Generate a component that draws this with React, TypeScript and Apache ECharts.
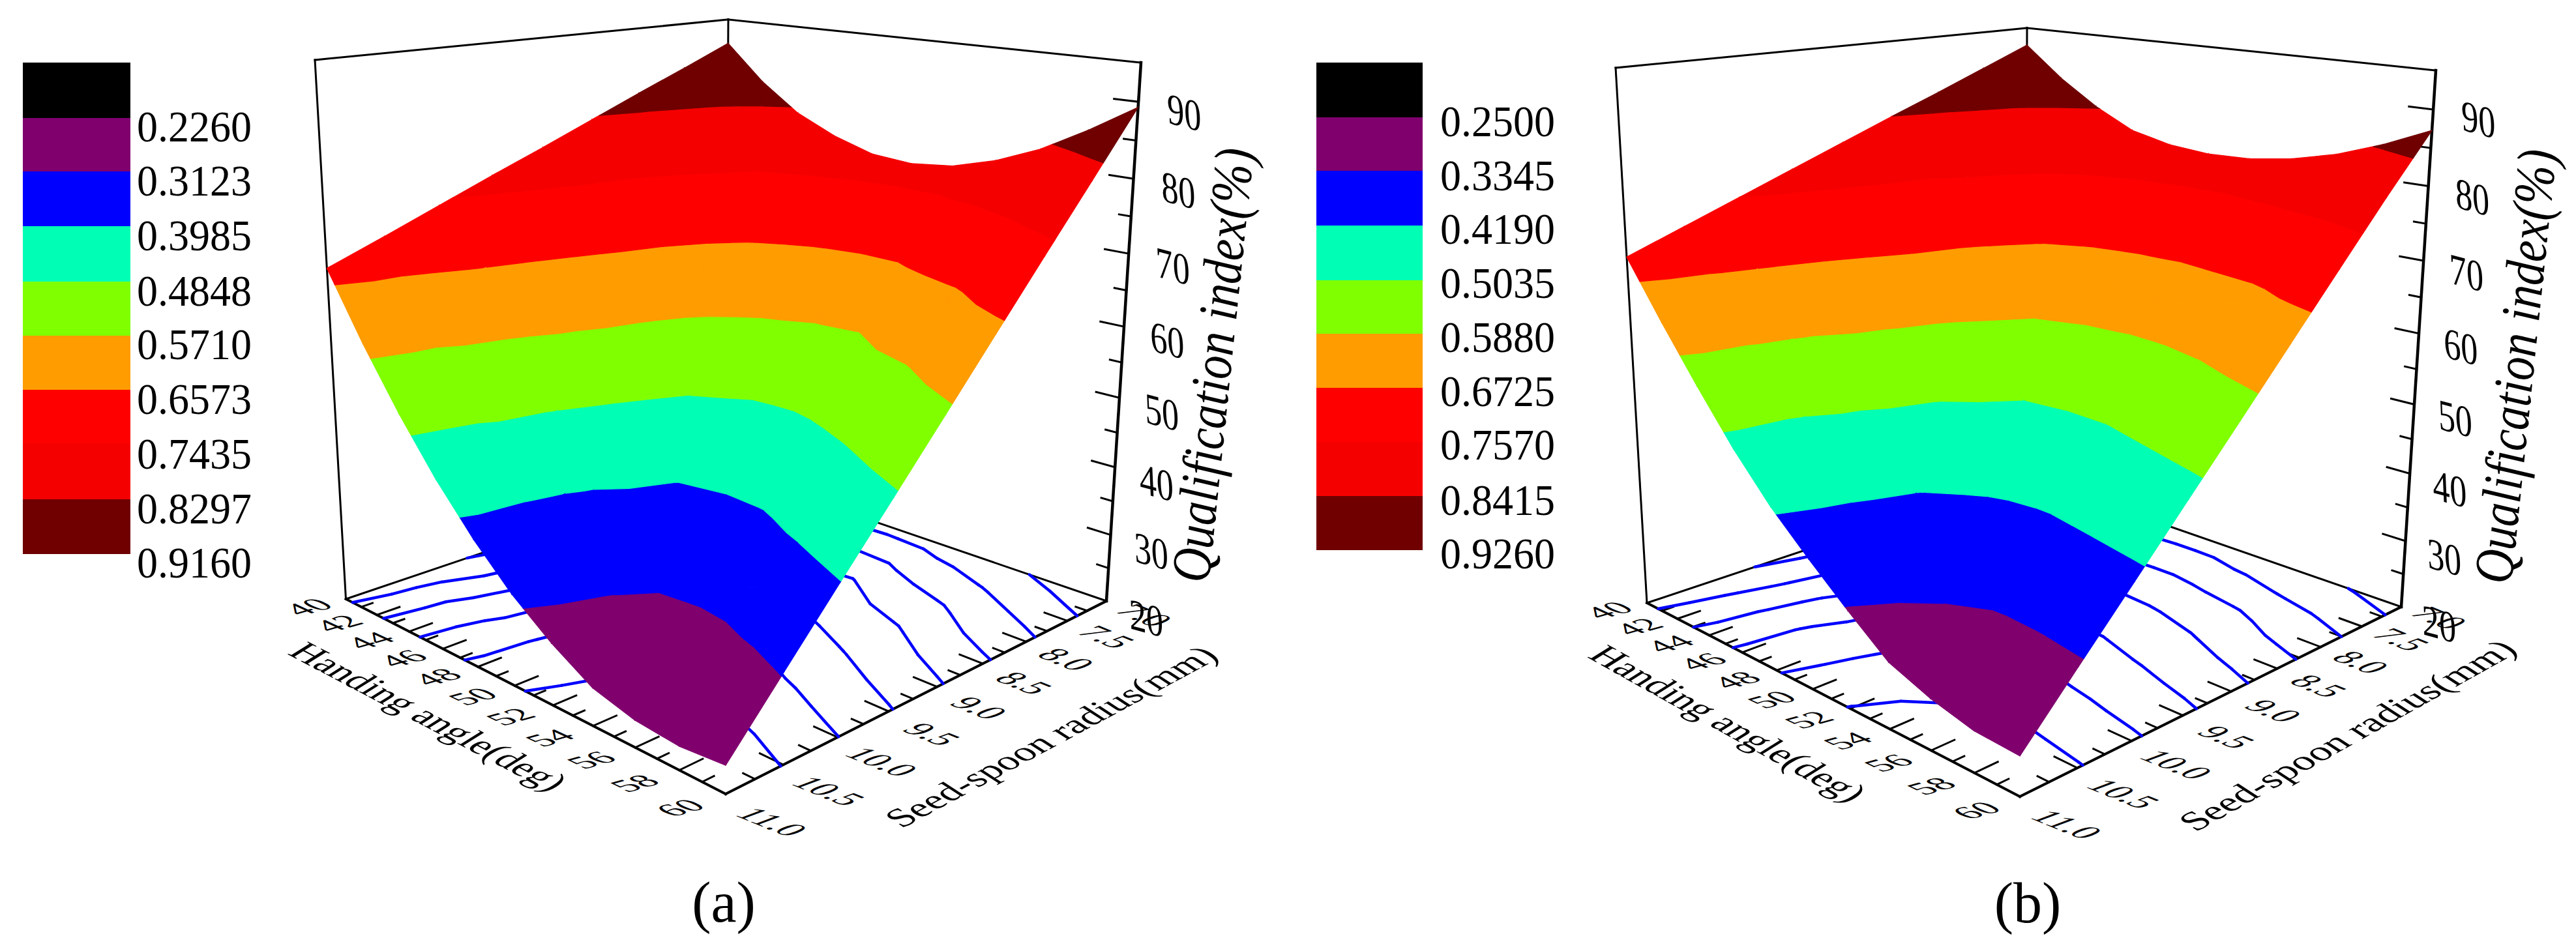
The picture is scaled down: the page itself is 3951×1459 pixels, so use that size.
import React, { useEffect, useRef } from "react";
import * as echarts from "echarts";

type P = [number, number];

// ---------- data ----------
const handingAngles = [40, 42, 44, 46, 48, 50, 52, 54, 56, 58, 60];
const spoonRadii = [7, 7.5, 8, 8.5, 9, 9.5, 10, 10.5, 11];
const angleTicks = [41, 42, 43, 44, 45, 46, 47, 48, 49, 50, 51, 52, 53, 54, 55, 56, 57, 58, 59];
const angleLabels = [40, 42, 44, 46, 48, 50, 52, 54, 56, 58, 60];
const radiusTicks = [10.75, 10.5, 10.25, 10, 9.75, 9.5, 9.25, 9, 8.75, 8.5, 8.25, 8, 7.75, 7.5, 7.25];
const radiusLabels = ["11.0", "10.5", "10.0", "9.5", "9.0", "8.5", "8.0", "7.5", "7.0"];
const indexTicks = [25, 30, 35, 40, 45, 50, 55, 60, 65, 70, 75, 80, 85, 90];
const indexLabels = [20, 30, 40, 50, 60, 70, 80, 90];
const legendColors = ["#000000", "#80006e", "#0000ff", "#00ffb4", "#80ff00", "#ff9c00", "#ff0000", "#f50000", "#700000"];
const legendA = ["0.2260", "0.3123", "0.3985", "0.4848", "0.5710", "0.6573", "0.7435", "0.8297", "0.9160"];
const legendB = ["0.2500", "0.3345", "0.4190", "0.5035", "0.5880", "0.6725", "0.7570", "0.8415", "0.9260"];

// qualification index (%) : one row per handing angle, one column per seed-spoon radius
const qualificationA = [
  [91.4, 88.4, 85.5, 82.5, 79.5, 76.6, 73.6, 70.6, 67.7],
  [86.2, 79.9, 75.6, 72.2, 70.0, 67.7, 65.2, 60.6, 58.8],
  [82.2, 73.6, 69.1, 65.5, 63.0, 59.6, 55.7, 52.1, 50.8],
  [79.6, 70.4, 63.8, 58.3, 54.2, 51.1, 47.9, 45.9, 43.7],
  [77.8, 68.1, 60.3, 53.6, 48.3, 44.3, 40.6, 38.6, 37.6],
  [77.3, 67.1, 57.9, 51.0, 45.4, 39.5, 36.6, 34.8, 32.4],
  [77.9, 67.7, 57.4, 51.1, 44.8, 38.5, 33.8, 30.5, 28.3],
  [79.6, 70.8, 61.7, 53.7, 46.1, 38.9, 33.4, 26.6, 25.0],
  [82.1, 73.6, 64.2, 56.1, 49.0, 41.7, 34.6, 25.9, 23.5],
  [85.5, 77.0, 69.2, 60.5, 52.4, 44.7, 36.8, 28.7, 23.0],
  [89.3, 80.9, 72.6, 64.3, 56.0, 47.8, 39.7, 31.6, 23.5],
];
const qualificationB = [
  [92.4, 89.6, 86.8, 84.1, 81.3, 78.5, 75.7, 72.9, 70.1],
  [88.0, 82.7, 79.1, 75.3, 73.1, 70.6, 68.1, 65.2, 62.5],
  [84.4, 77.4, 72.8, 69.4, 67.3, 63.8, 59.6, 57.0, 55.3],
  [81.6, 74.3, 67.9, 63.5, 59.6, 56.1, 52.6, 49.6, 48.5],
  [80.3, 72.4, 64.9, 58.7, 54.2, 49.9, 47.0, 44.7, 42.6],
  [79.8, 71.8, 63.4, 56.8, 50.3, 46.2, 42.1, 39.7, 37.7],
  [80.0, 71.7, 63.0, 56.3, 49.7, 44.1, 39.4, 36.3, 33.1],
  [80.9, 73.5, 64.2, 56.7, 50.1, 43.7, 38.0, 33.3, 28.8],
  [82.4, 75.3, 65.6, 58.5, 51.8, 45.0, 38.0, 31.2, 26.7],
  [84.6, 76.9, 69.3, 61.2, 53.7, 46.5, 39.1, 31.6, 25.3],
  [87.3, 79.7, 71.8, 63.9, 56.0, 48.2, 40.4, 32.7, 25.0],
];

// ---------- layout ----------
const FONT = "'Liberation Serif', 'Times New Roman', serif";
const W = 3951, H = 1459;

const panels = [
  {
    grid: qualificationA, legend: legendA, caption: "(a)", captionAt: [1110, 1384] as P,
    floor: [[530.5, 919], [1113, 1218], [1697, 922], [1113, 722]] as P[],
    top: [[483, 92], [1113, 190], [1750, 96], [1117, 30]] as P[],
    legendX: 35, legendW: 165, legendY: [96, 181, 263, 347, 432, 515, 598, 680, 766, 850],
    legendTextX: 298, legendTextY: [195, 278, 362, 447, 529, 613, 697, 781, 864],
    angleOff: [[-58, 12], [-70, 21]], radiusOff: [[71, 43], [58, 22]], indexOff: [[61, 26], [70, 16]],
    angleTitle: { at: [658, 1099] as P, X: [50.7, 26.7] as P },
    radiusTitle: { at: [1612, 1130] as P, X: [51, -27.4] as P },
    indexTitleAt: [1860, 560] as P,
  },
  {
    grid: qualificationB, legend: legendB, caption: "(b)", captionAt: [3110, 1385] as P,
    floor: [[2526, 925], [3098, 1222], [3683, 931], [3107, 731]] as P[],
    top: [[2478, 104], [3098, 202], [3736, 108], [3109, 43]] as P[],
    legendX: 2019, legendW: 163, legendY: [96, 180, 262, 346, 430, 512, 595, 678, 761, 844],
    legendTextX: 2297, legendTextY: [187, 270, 352, 435, 518, 601, 683, 768, 850],
    angleOff: [[-59, 11], [-67, 21]], radiusOff: [[72, 43], [58, 17]], indexOff: [[58, 26], [69, 15]],
    angleTitle: { at: [2651, 1110] as P, X: [50.6, 28.2] as P },
    radiusTitle: { at: [3600, 1128] as P, X: [51.8, -29] as P },
    indexTitleAt: [3858, 562] as P,
  },
];

// ---------- projection ----------
function homography(q: P[]) {
  const [p0, p1, p2, p3] = q;
  const dx1 = p1[0] - p2[0], dx2 = p3[0] - p2[0], dx3 = p0[0] - p1[0] + p2[0] - p3[0];
  const dy1 = p1[1] - p2[1], dy2 = p3[1] - p2[1], dy3 = p0[1] - p1[1] + p2[1] - p3[1];
  const D = dx1 * dy2 - dx2 * dy1;
  const g = (dx3 * dy2 - dx2 * dy3) / D, h = (dx1 * dy3 - dx3 * dy1) / D;
  const a = p1[0] - p0[0] + g * p1[0], b = p3[0] - p0[0] + h * p3[0], c = p0[0];
  const d = p1[1] - p0[1] + g * p1[1], e = p3[1] - p0[1] + h * p3[1], f = p0[1];
  return (u: number, v: number): P => {
    const w = g * u + h * v + 1;
    return [(a * u + b * v + c) / w, (d * u + e * v + f) / w];
  };
}
const uOf = (angle: number) => (angle - 40) / 20;
const vOf = (radius: number) => (11 - radius) / 4;
const heightFrac = (z: number) => { const t = (z - 20) / 75; return t / (t + (1 - t) * 1.1); };

function makeProjector(panel: (typeof panels)[number]) {
  const F = homography(panel.floor), T = homography(panel.top);
  const floor = (u: number, v: number) => F(u, v);
  const space = (u: number, v: number, z: number): P => {
    const f = F(u, v), t = T(u, v), s = heightFrac(z);
    return [f[0] + (t[0] - f[0]) * s, f[1] + (t[1] - f[1]) * s];
  };
  return { floor, space, top: (u: number, v: number) => T(u, v) };
}

type V = { x: number; y: number; z: number };
function clip(poly: V[], level: number, keepAbove: boolean): V[] {
  const out: V[] = [];
  for (let i = 0; i < poly.length; i++) {
    const a = poly[i], b = poly[(i + 1) % poly.length];
    const ina = keepAbove ? a.z >= level : a.z <= level;
    const inb = keepAbove ? b.z >= level : b.z <= level;
    if (ina) out.push(a);
    if (ina !== inb) {
      const t = (level - a.z) / (b.z - a.z);
      out.push({ x: a.x + (b.x - a.x) * t, y: a.y + (b.y - a.y) * t, z: level });
    }
  }
  return out;
}

const cells: number[][] = [];
handingAngles.slice(0, -1).forEach((_, i) => spoonRadii.slice(0, -1).forEach((_, j) => cells.push([i, j])));

function surfaceSeries(panel: (typeof panels)[number]) {
  const pr = makeProjector(panel);
  const levels = panel.legend.slice(1, 8).map((s) => parseFloat(s) * 100);
  const colors = legendColors.slice(1);
  const vert = (i: number, j: number): V => {
    const z = panel.grid[i][j];
    const p = pr.space(uOf(handingAngles[i]), vOf(spoonRadii[j]), z);
    return { x: p[0], y: p[1], z };
  };
  return {
    type: "custom", coordinateSystem: "cartesian2d", clip: false, silent: true, z: 5,
    data: cells,
    renderItem: (_: any, api: any) => {
      const i = api.value(0), j = api.value(1);
      const a = vert(i, j), b = vert(i + 1, j), c = vert(i + 1, j + 1), d = vert(i, j + 1);
      const children: any[] = [];
      [[a, b, c], [a, c, d]].forEach((tri) => {
        colors.forEach((col, k) => {
          let poly: V[] = tri;
          if (k > 0) poly = clip(poly, levels[k - 1], true);
          if (k < levels.length && poly.length) poly = clip(poly, levels[k], false);
          if (poly.length >= 3) {
            children.push({
              type: "polygon",
              shape: { points: poly.map((q) => api.coord([q.x, q.y])) },
              style: { fill: col, stroke: col, lineWidth: 1.2 },
            });
          }
        });
      });
      return { type: "group", children };
    },
  };
}

function floorContourSeries(panel: (typeof panels)[number]) {
  const pr = makeProjector(panel);
  const levels = panel.legend.slice(1, 8).map((s) => parseFloat(s) * 100);
  const node = (i: number, j: number) => ({ u: uOf(handingAngles[i]), v: vOf(spoonRadii[j]), z: panel.grid[i][j] });
  return {
    type: "custom", coordinateSystem: "cartesian2d", clip: false, silent: true, z: 3,
    data: cells,
    renderItem: (_: any, api: any) => {
      const i = api.value(0), j = api.value(1);
      const a = node(i, j), b = node(i + 1, j), c = node(i + 1, j + 1), d = node(i, j + 1);
      const children: any[] = [];
      [[a, b, c], [a, c, d]].forEach((tri) => {
        levels.forEach((L) => {
          const pts: P[] = [];
          for (let k = 0; k < 3; k++) {
            const p = tri[k], q = tri[(k + 1) % 3];
            if ((p.z < L) !== (q.z < L)) {
              const t = (L - p.z) / (q.z - p.z);
              pts.push(pr.floor(p.u + (q.u - p.u) * t, p.v + (q.v - p.v) * t));
            }
          }
          if (pts.length === 2) {
            const s = api.coord(pts[0]), e = api.coord(pts[1]);
            children.push({
              type: "line", shape: { x1: s[0], y1: s[1], x2: e[0], y2: e[1] },
              style: { stroke: "#0000ff", lineWidth: 4.5, lineCap: "round" },
            });
          }
        });
      });
      return { type: "group", children };
    },
  };
}

function frameSeries(panel: (typeof panels)[number]) {
  const pr = makeProjector(panel);
  const seg = (api: any, p: P, q: P, w: number) => {
    const s = api.coord(p), e = api.coord(q);
    return { type: "line", shape: { x1: s[0], y1: s[1], x2: e[0], y2: e[1] }, style: { stroke: "#000", lineWidth: w, lineCap: "square" } };
  };
  const corners: P[] = [[0, 0], [1, 0], [1, 1], [0, 1]];
  return {
    type: "custom", coordinateSystem: "cartesian2d", clip: false, silent: true, z: 2,
    data: [[0, 0]],
    renderItem: (_: any, api: any) => {
      const ch: any[] = [];
      const f = corners.map((c) => pr.floor(c[0], c[1]));
      const t = corners.map((c) => pr.top(c[0], c[1]));
      ch.push(seg(api, f[0], f[1], 4), seg(api, f[1], f[2], 4));
      ch.push(seg(api, f[0], f[3], 3), seg(api, f[2], f[3], 3));
      ch.push(seg(api, f[0], t[0], 3), seg(api, f[3], t[3], 3), seg(api, f[2], t[2], 4.5));
      ch.push(seg(api, t[0], t[3], 3), seg(api, t[3], t[2], 3));
      angleTicks.forEach((a) => {
        const len = a % 2 === 0 ? 0.05 : 0.025;
        ch.push(seg(api, pr.floor(uOf(a), 0), pr.floor(uOf(a), len), 3));
      });
      radiusTicks.forEach((r) => {
        const len = Number.isInteger(r * 2) ? 0.05 : 0.025;
        ch.push(seg(api, pr.floor(1, vOf(r)), pr.floor(1 - len, vOf(r)), 3));
      });
      indexTicks.forEach((z) => {
        const len = z % 10 === 0 ? 0.05 : 0.025;
        ch.push(seg(api, pr.space(1, 1, z), pr.space(1 - len, 1, z), 3));
      });
      return { type: "group", children: ch };
    },
  };
}

// ---------- plane-mapped text of the 3D plot ----------
function affineText(text: string, at: P, X: P, Y: P, fs: number, extra: any = {}) {
  const a = X[0] / fs, b = Y[0] / fs, c = X[1] / fs, d = Y[1] / fs;
  const E = (a + d) / 2, F = (a - d) / 2, G = (c + b) / 2, Hh = (c - b) / 2;
  const Q = Math.hypot(E, Hh), R = Math.hypot(F, G);
  const a1 = Math.atan2(G, F), a2 = Math.atan2(Hh, E);
  const theta = (a2 - a1) / 2, phi = (a2 + a1) / 2;
  return {
    type: "group", x: at[0], y: at[1], rotation: -phi, scaleX: Q + R, scaleY: Q - R, silent: true,
    children: [{
      type: "text", rotation: -theta, silent: true,
      style: { text, fontSize: fs, fontFamily: FONT, fill: "#000", align: "center", verticalAlign: "middle", ...extra },
    }],
  };
}
const lerp2 = (o: number[][], t: number): P => [o[0][0] + (o[1][0] - o[0][0]) * t, o[0][1] + (o[1][1] - o[0][1]) * t];

function panelGraphics(panel: (typeof panels)[number]) {
  const pr = makeProjector(panel);
  const out: any[] = [];
  legendColors.forEach((col, k) => {
    out.push({
      type: "rect", silent: true,
      shape: { x: panel.legendX, y: panel.legendY[k], width: panel.legendW, height: panel.legendY[k + 1] - panel.legendY[k] },
      style: { fill: col },
    });
  });
  panel.legend.forEach((s, k) => {
    out.push(affineText(s, [panel.legendTextX, panel.legendTextY[k]], [64, 0], [0, 67], 64));
  });
  angleLabels.forEach((a) => {
    const t = uOf(a), p = pr.floor(t, 0), o = lerp2(panel.angleOff, t);
    out.push(affineText(String(a), [p[0] + o[0], p[1] + o[1]], [54, -15], [45, 21], 60));
  });
  radiusLabels.forEach((r) => {
    const t = vOf(parseFloat(r)), p = pr.floor(1, t), o = lerp2(panel.radiusOff, t);
    out.push(affineText(r, [p[0] + o[0], p[1] + o[1]], [49, 20], [-51, 19], 60));
  });
  indexLabels.forEach((z) => {
    const t = (z - 20) / 70, p = pr.space(1, 1, z), o = lerp2(panel.indexOff, t);
    out.push(affineText(String(z), [p[0] + o[0], p[1] + o[1]], [52, 14], [3, 68], 60));
  });
  out.push(affineText("Handing angle(deg)", panel.angleTitle.at, panel.angleTitle.X, [-48, 30], 60));
  out.push(affineText("Seed-spoon radius(mm)", panel.radiusTitle.at, panel.radiusTitle.X, [46, 30], 60));
  out.push(affineText("Qualification index(%)", panel.indexTitleAt, [7.5, -72], [85, 7], 72, { fontStyle: "italic" }));
  out.push({
    type: "text", x: panel.captionAt[0], y: panel.captionAt[1], silent: true,
    style: { text: panel.caption, fontSize: 88, fontFamily: FONT, fill: "#000", align: "center", verticalAlign: "middle" },
  });
  return out;
}

export default function App() {
  const ref = useRef<HTMLDivElement>(null);
  useEffect(() => {
    document.body.style.margin = "0";
    const chart = echarts.init(ref.current!, undefined, { renderer: "svg" });
    chart.setOption({
      animation: false,
      backgroundColor: "#ffffff",
      grid: { left: 0, right: 0, top: 0, bottom: 0 },
      xAxis: { type: "value", min: 0, max: W, show: false },
      yAxis: { type: "value", min: 0, max: H, inverse: true, show: false },
      graphic: { elements: panels.flatMap(panelGraphics) },
      series: panels.flatMap((p) => [frameSeries(p), floorContourSeries(p), surfaceSeries(p)]),
    });
    return () => chart.dispose();
  }, []);
  return <div ref={ref} style={{ width: W, height: H }} />;
}
